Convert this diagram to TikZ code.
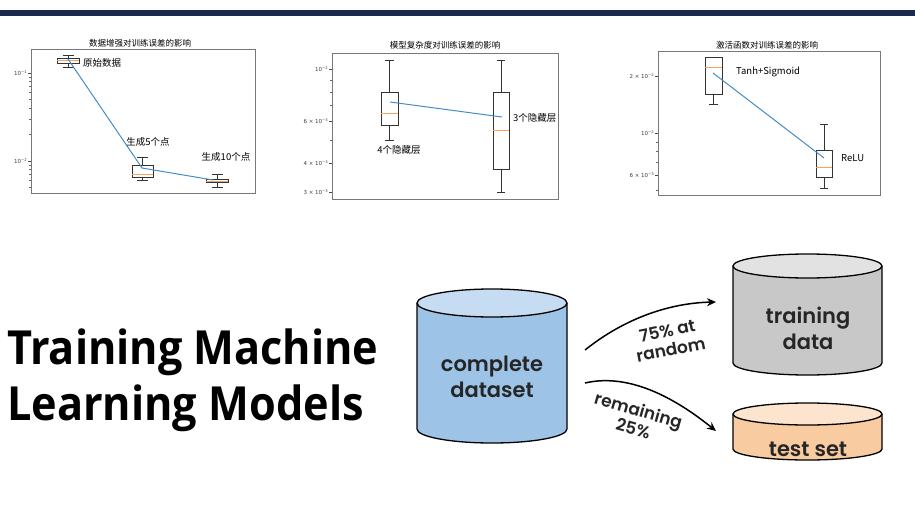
\documentclass[tikz,border=0pt]{standalone}
\usepackage{fontspec}
\setmainfont{DejaVu Sans}
\newfontfamily\cjk{Noto Sans CJK SC}
\newfontfamily\dv{DejaVu Sans}
\newfontfamily\titlef{Open Sans}[FakeStretch=0.92]
\newfontfamily\popf{Poppins SemiBold}
\usetikzlibrary{arrows.meta}
\definecolor{navy}{RGB}{27,43,80}
\definecolor{mplblue}{RGB}{70,140,200}
\definecolor{mplorange}{RGB}{250,160,90}
\definecolor{framegray}{RGB}{120,120,120}
\definecolor{dsblue}{RGB}{157,195,230}
\definecolor{dsbluetop}{RGB}{198,220,242}
\definecolor{trgray}{RGB}{200,200,200}
\definecolor{trgraytop}{RGB}{226,226,226}
\definecolor{tsorange}{RGB}{248,203,160}
\definecolor{tsorangetop}{RGB}{252,228,206}
\tikzset{
  axframe/.style={draw=framegray,line width=0.9pt},
  boxline/.style={draw=black!80,line width=0.6pt},
  medline/.style={draw=mplorange,line width=0.7pt},
  trend/.style={draw=mplblue,line width=1pt},
  majtick/.style={draw=black!70,line width=0.4pt},
  mintick/.style={draw=black!60,line width=0.3pt},
  ticklab/.style={anchor=east,inner sep=0pt,text=black!75,font=\dv\fontsize{5.5}{6}\selectfont},
  ctitle/.style={inner sep=0pt,font=\cjk\fontsize{8.5}{9}\selectfont},
  clabel/.style={inner sep=0pt,font=\cjk\fontsize{9.5}{10}\selectfont},
  cylline/.style={draw=black,line width=1.3pt},
  cyltext/.style={align=center,inner sep=0pt,text=black!85,font=\popf\fontsize{21}{26}\selectfont},
  arrlab/.style={align=center,inner sep=0pt,text=black!85,font=\popf\fontsize{17}{19}\selectfont},
  splitarrow/.style={draw=black,line width=1.5pt,-{Stealth[length=9pt,width=8pt]}},
}
\newcommand\sx[1]{\raisebox{2pt}{\fontsize{3.8}{4}\selectfont −#1}}
\newcommand\bxplot[7]{%
  \pgfmathsetmacro\bxc{(#1+#2)/2}%
  \pgfmathsetmacro\bxw{(#2-#1)/4}%
  \draw[boxline] (#1,#4) rectangle (#2,#6);
  \draw[medline] (#1,#5) -- (#2,#5);
  \draw[boxline] (\bxc,#4) -- (\bxc,#3) (\bxc-\bxw,#3) -- (\bxc+\bxw,#3);
  \draw[boxline] (\bxc,#6) -- (\bxc,#7) (\bxc-\bxw,#7) -- (\bxc+\bxw,#7);
}
\newcommand\cyl[7]{%
  \fill[#6] (#1-#4,#2) -- (#1-#4,#3) arc[start angle=180,end angle=360,x radius=#4pt,y radius=#5pt] -- (#1+#4,#2) -- cycle;
  \draw[cylline] (#1-#4,#2) -- (#1-#4,#3) arc[start angle=180,end angle=360,x radius=#4pt,y radius=#5pt] -- (#1+#4,#2);
  \filldraw[cylline,fill=#7] (#1,#2) ellipse[x radius=#4pt,y radius=#5pt];
}
\begin{document}
\begin{tikzpicture}[x=1pt,y=-1pt]
\useasboundingbox (0,0) rectangle (915,505);
\fill[white] (0,0) rectangle (915,505);
% top bar
\fill[navy] (0,10) rectangle (915,16);

% ---------- plot 1 ----------
\node[ctitle] (t1) at (140,43) {数据增强对训练误差的影响};
\draw[axframe] (31,49) rectangle (255,193);
\foreach \yy in {73,161} \draw[majtick] (31,\yy) -- (28,\yy);
\foreach \yy in {77,81.5,86.6,92.5,99.5,108,119,134.5,165,169.5,174.6,180.5,187.5} \draw[mintick] (31,\yy) -- (29,\yy);
\node[ticklab] (p1a) at (27,73) {10\sx{1}};
\node[ticklab] (p1b) at (27,161) {10\sx{2}};
\bxplot{57}{79}{55}{58}{60.5}{63}{67}
\bxplot{132}{153}{157}{165}{174}{177}{180}
\bxplot{206}{228}{174}{179}{181}{182}{187}
\draw[trend] (68,59) -- (142,168) -- (213,180);
\node[clabel,anchor=west] (l11) at (83,63) {原始数据};
\node[clabel] (l12) at (148,142) {生成5个点};
\node[clabel] (l13) at (226,157) {生成10个点};

% ---------- plot 2 ----------
\node[ctitle] (t2) at (445,45) {模型复杂度对训练误差的影响};
\draw[axframe] (332,53) rectangle (558,199);
\foreach \yy in {69,121,163,192} \draw[majtick] (332,\yy) -- (329,\yy);
\foreach \yy in {79.7,91.8,105.4,139.7} \draw[mintick] (332,\yy) -- (330,\yy);
\node[ticklab] (p2a) at (328,69) {10\sx{2}};
\node[ticklab] (p2b) at (328,121) {6 × 10\sx{3}};
\node[ticklab] (p2c) at (328,163) {4 × 10\sx{3}};
\node[ticklab] (p2d) at (328,192) {3 × 10\sx{3}};
\bxplot{381}{398}{60}{92}{113}{125}{140}
\bxplot{493}{509}{60}{92}{130}{169}{192}
\draw[trend] (390,102) -- (502,117);
\node[clabel] (l21) at (399,150) {4个隐藏层};
\node[clabel,anchor=west] (l22) at (513,118) {3个隐藏层};

% ---------- plot 3 ----------
\node[ctitle] (t3) at (767,45) {激活函数对训练误差的影响};
\draw[axframe] (658,51) rectangle (880,195);
\foreach \yy in {76,133,175} \draw[majtick] (658,\yy) -- (655,\yy);
\foreach \yy in {141.7,151.3,162.3,190} \draw[mintick] (658,\yy) -- (656,\yy);
\node[ticklab] (p3a) at (654,76) {2 × 10\sx{2}};
\node[ticklab] (p3b) at (654,133) {10\sx{2}};
\node[ticklab] (p3c) at (654,175) {6 × 10\sx{3}};
\bxplot{705}{722}{57}{57}{67}{94}{104}
\bxplot{816}{832}{124}{150}{167}{177}{188}
\draw[trend] (713,73) -- (824,158);
\node[clabel,anchor=west] (l31) at (736,72) {Tanh+Sigmoid};
\node[clabel,anchor=west] (l32) at (841,158) {ReLU};

% ---------- title ----------
\node[anchor=base west,inner sep=0pt,align=left,font=\titlef\bfseries\fontsize{47}{56}\selectfont] (title) at (7,420) {Training Machine\\Learning Models};

% ---------- cylinders ----------
\cyl{492}{303}{429}{75}{14}{dsblue}{dsbluetop}
\cyl{807.5}{266}{363}{74.5}{12}{trgray}{trgraytop}
\cyl{807.5}{414}{449}{74.5}{11}{tsorange}{tsorangetop}
\node[cyltext] (full) at (492,377) {complete\\dataset};
\node[cyltext] (train) at (808,328) {training\\data};
\node[cyltext] (test) at (808,449) {test set};

\coordinate (a1s) at (585,350);
\coordinate (a1e) at (716,302);
\coordinate (a2s) at (585,383);
\coordinate (a2e) at (716,431);
\draw[splitarrow] (a1s) .. controls (625,318) and (670,303) .. (a1e);
\draw[splitarrow] (a2s) .. controls (632,372) and (680,402) .. (a2e);
\node[arrlab,rotate=11] (lab1) at (669,340) {75\% at\\random};
\node[arrlab,rotate=-16] (lab2) at (636,419) {remaining\\25\%};
\end{tikzpicture}
\end{document}
